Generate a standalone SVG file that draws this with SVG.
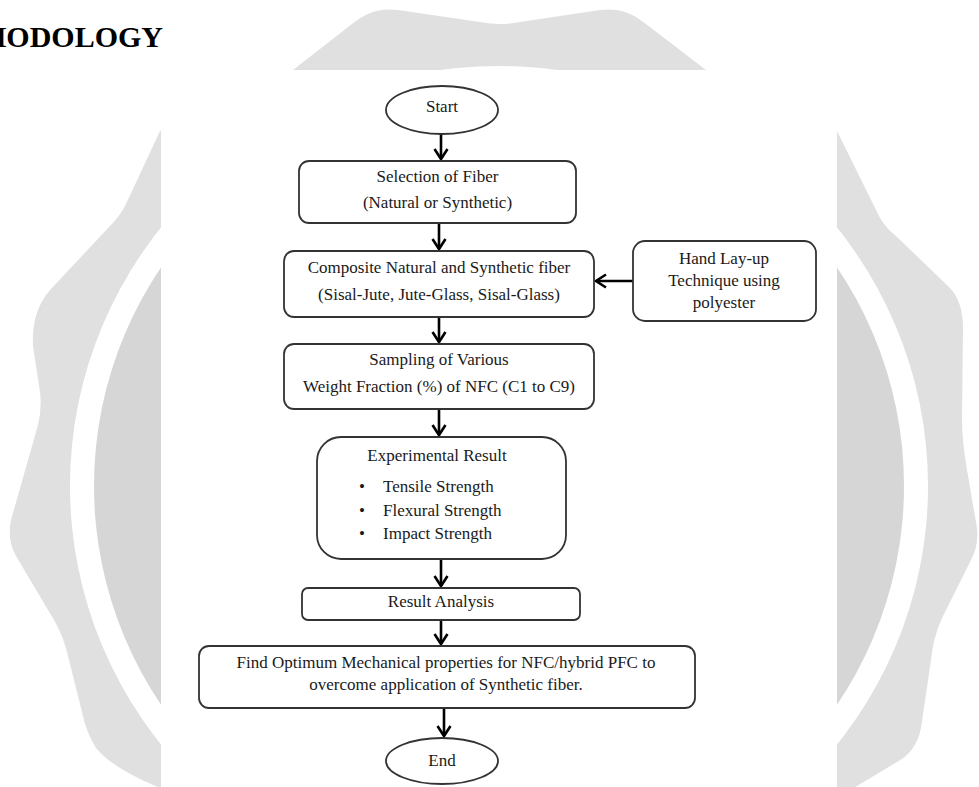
<svg xmlns="http://www.w3.org/2000/svg" width="979" height="787" viewBox="0 0 979 787">
<style>
.t{font-family:"Liberation Serif","Times New Roman",serif;font-size:17px;fill:#1a1a1a;text-anchor:middle}
.l{text-anchor:start}
.box{fill:#fff;stroke:#333;stroke-width:1.8}
.c{stroke:#000;stroke-width:2.6;fill:none}
</style>
<defs>
<marker id="ah" markerUnits="userSpaceOnUse" markerWidth="20" markerHeight="20" refX="0" refY="0" viewBox="-12 -10 14 20" orient="auto" overflow="visible">
<path d="M-10,-6.5 L0,0 L-10,6.5" fill="none" stroke="#000" stroke-width="2.6" stroke-linejoin="miter"/>
</marker>
</defs>
<rect width="979" height="787" fill="#fff"/>
<g id="watermark">
<path fill="#e0e0e0" d="M293,70 L352,24 C368,11 382,8 398,10 L480,22 Q500,26 520,22 L600,10 C616,8 630,11 646,24 L706,70 L837,131 L880,218 Q886,228 896,236 L950,288 Q963,302 963,328 L962,420 Q962,440 967,470 L977,528 Q979,546 970,562 L942,618 Q933,638 931,660 L921,728 Q916,752 897,762 L847,792 L847,800 L150,800 L160,788 Q112,768 96,748 Q86,732 82,712 L66,648 Q60,628 48,610 L16,556 Q7,540 11,520 L38,425 Q42,408 40,392 L33,346 Q31,312 50,290 L110,226 Q120,216 126,204 L160,131 Z"/>
<ellipse cx="499" cy="486" rx="429" ry="420" fill="#fff"/>
<ellipse cx="499" cy="486" rx="405" ry="397" fill="#d6d6d6"/>
</g>
<rect x="161" y="70" width="676" height="717" fill="#fff"/>
<text x="163" y="47" style="font-family:'Liberation Serif','Times New Roman',serif;font-size:30px;font-weight:bold;text-anchor:end;fill:#000">HODOLOGY</text>
<g id="connectors">
<line class="c" x1="441" y1="134" x2="441" y2="159" marker-end="url(#ah)"/>
<line class="c" x1="439" y1="223" x2="439" y2="249" marker-end="url(#ah)"/>
<line class="c" x1="633" y1="281" x2="596" y2="281" marker-end="url(#ah)"/>
<line class="c" x1="439" y1="317" x2="439" y2="342" marker-end="url(#ah)"/>
<line class="c" x1="439" y1="409" x2="439" y2="435" marker-end="url(#ah)"/>
<line class="c" x1="441" y1="559" x2="441" y2="586" marker-end="url(#ah)"/>
<line class="c" x1="441" y1="620" x2="441" y2="644" marker-end="url(#ah)"/>
<line class="c" x1="444" y1="708" x2="444" y2="736" marker-end="url(#ah)"/>
</g>
<g id="start">
<ellipse class="box" cx="442" cy="110" rx="56" ry="24"/>
<text class="t" x="442" y="112">Start</text>
</g>
<g id="selection">
<rect class="box" x="299" y="161" width="277" height="62" rx="10"/>
<text class="t" x="437.5" y="182">Selection of Fiber</text>
<text class="t" x="437.5" y="208">(Natural or Synthetic)</text>
</g>
<g id="composite">
<rect class="box" x="284" y="251" width="310" height="66" rx="10"/>
<text class="t" x="439" y="273">Composite Natural and Synthetic fiber</text>
<text class="t" x="439" y="300">(Sisal-Jute, Jute-Glass, Sisal-Glass)</text>
</g>
<g id="handlayup">
<rect class="box" x="633" y="241" width="183" height="80" rx="12"/>
<text class="t" x="724" y="264">Hand Lay-up</text>
<text class="t" x="724" y="286">Technique using</text>
<text class="t" x="724" y="308">polyester</text>
</g>
<g id="sampling">
<rect class="box" x="284" y="344" width="310" height="65" rx="10"/>
<text class="t" x="439" y="365">Sampling of Various</text>
<text class="t" x="439" y="392">Weight Fraction (%) of NFC (C1 to C9)</text>
</g>
<g id="experimental">
<rect class="box" x="317" y="437" width="249" height="122" rx="24"/>
<text class="t" x="437" y="461">Experimental Result</text>
<text class="t" x="362" y="492">•</text>
<text class="t l" x="383" y="492">Tensile Strength</text>
<text class="t" x="362" y="516">•</text>
<text class="t l" x="383" y="516">Flexural Strength</text>
<text class="t" x="362" y="539">•</text>
<text class="t l" x="383" y="539">Impact Strength</text>
</g>
<g id="analysis">
<rect class="box" x="302" y="588" width="278" height="32" rx="6"/>
<text class="t" x="441" y="607">Result Analysis</text>
</g>
<g id="optimum">
<rect class="box" x="199" y="646" width="496" height="62" rx="10"/>
<text class="t" x="446" y="668">Find Optimum Mechanical properties for NFC/hybrid PFC to</text>
<text class="t" x="446" y="690">overcome application of Synthetic fiber.</text>
</g>
<g id="end">
<ellipse class="box" cx="442" cy="761" rx="56" ry="23"/>
<text class="t" x="442" y="766">End</text>
</g>
</svg>
